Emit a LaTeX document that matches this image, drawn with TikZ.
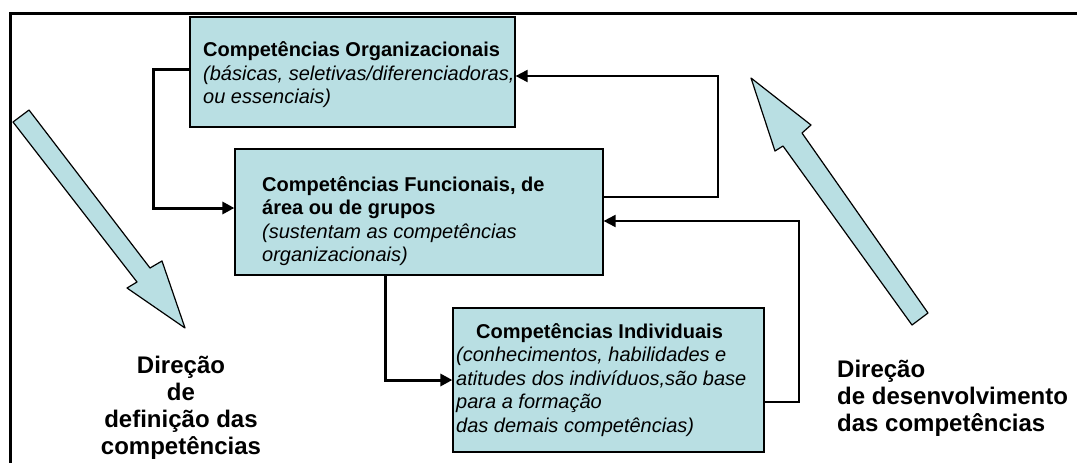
\documentclass[tikz,border=0pt]{standalone}
\usepackage{fontspec}
\setmainfont{Liberation Sans}
\usepackage{tikz}
\usetikzlibrary{arrows.meta}
\definecolor{azulClaro}{RGB}{185,223,227}

\begin{document}
\begin{tikzpicture}[x=1pt,y=-1pt,
    caixa/.style={draw=black,line width=1.2pt,fill=azulClaro,inner sep=0pt},
    texto/.style={align=left,inner sep=0pt,font=\fontsize{20}{23.5}\selectfont},
    rotulo/.style={inner sep=0pt,font=\fontsize{24}{27}\selectfont\bfseries},
    liga/.style={line width=3pt,-{Triangle[length=12pt,width=12pt]}},
    ligafina/.style={line width=2pt,-{Triangle[length=12pt,width=12pt]}},
    setagrande/.style={draw=black,line width=1.2pt,fill=azulClaro,line join=round}]
    \useasboundingbox (0,0) rectangle (1077,463);
    % moldura
    \draw[line width=3pt] (10,470) -- (10,13.5) -- (1085,13.5);

    % setas grandes
    \draw[setagrande] (13,122) -- (137,282) -- (127,288) -- (185,328) -- (162,261) -- (150,268) -- (29,110) -- cycle;
    \draw[setagrande] (912,325) -- (783,146) -- (775,151) -- (751,78) -- (811,125) -- (802,133) -- (928,313) -- cycle;

    % caixas
    \node[caixa,minimum width=325pt,minimum height=110pt] (org) at (352.5,72) {};
    \node[caixa,minimum width=368pt,minimum height=126pt] (func) at (419,212) {};
    \node[caixa,minimum width=311pt,minimum height=144pt] (indiv) at (608.5,380) {};

    \node[texto,anchor=west] (txtOrg) at (203,75) {\textbf{Competências Organizacionais}\\
        \textit{(básicas, seletivas/diferenciadoras,}\\ \textit{ou essenciais)}};
    \node[texto,anchor=west] (txtFunc) at (262,221) {\textbf{Competências Funcionais, de}\\
        \textbf{área ou de grupos}\\ \textit{(sustentam as competências}\\ \textit{organizacionais)}};
    \node[texto,anchor=west] (txtIndiv) at (456,380) {\hspace*{20pt}\textbf{Competências Individuais}\\
        \textit{(conhecimentos, habilidades e}\\ \textit{atitudes dos indivíduos,são base}\\
        \textit{para a formação}\\ \textit{das demais competências)}};

    % ligacoes
    \draw[liga] ([yshift=3pt]org.west) -| (153,208) -- ([yshift=4pt]func.west);
    \draw[ligafina] ([yshift=15pt]func.east) -| (718,76) -- ([yshift=-4pt]org.east);
    \draw[ligafina] ([yshift=-22pt]indiv.east) -| (799,221) -- ([yshift=-9pt]func.east);
    \draw[liga] ([xshift=-34pt]func.south) |- (indiv.west);

    % rotulos
    \node[rotulo,align=center] (dirDef) at (181,408) {Direção\\ de\\ definição das\\ competências};
    \node[rotulo,align=left,anchor=west] (dirDes) at (837,398) {Direção\\ de desenvolvimento\\ das competências};
\end{tikzpicture}
\end{document}
